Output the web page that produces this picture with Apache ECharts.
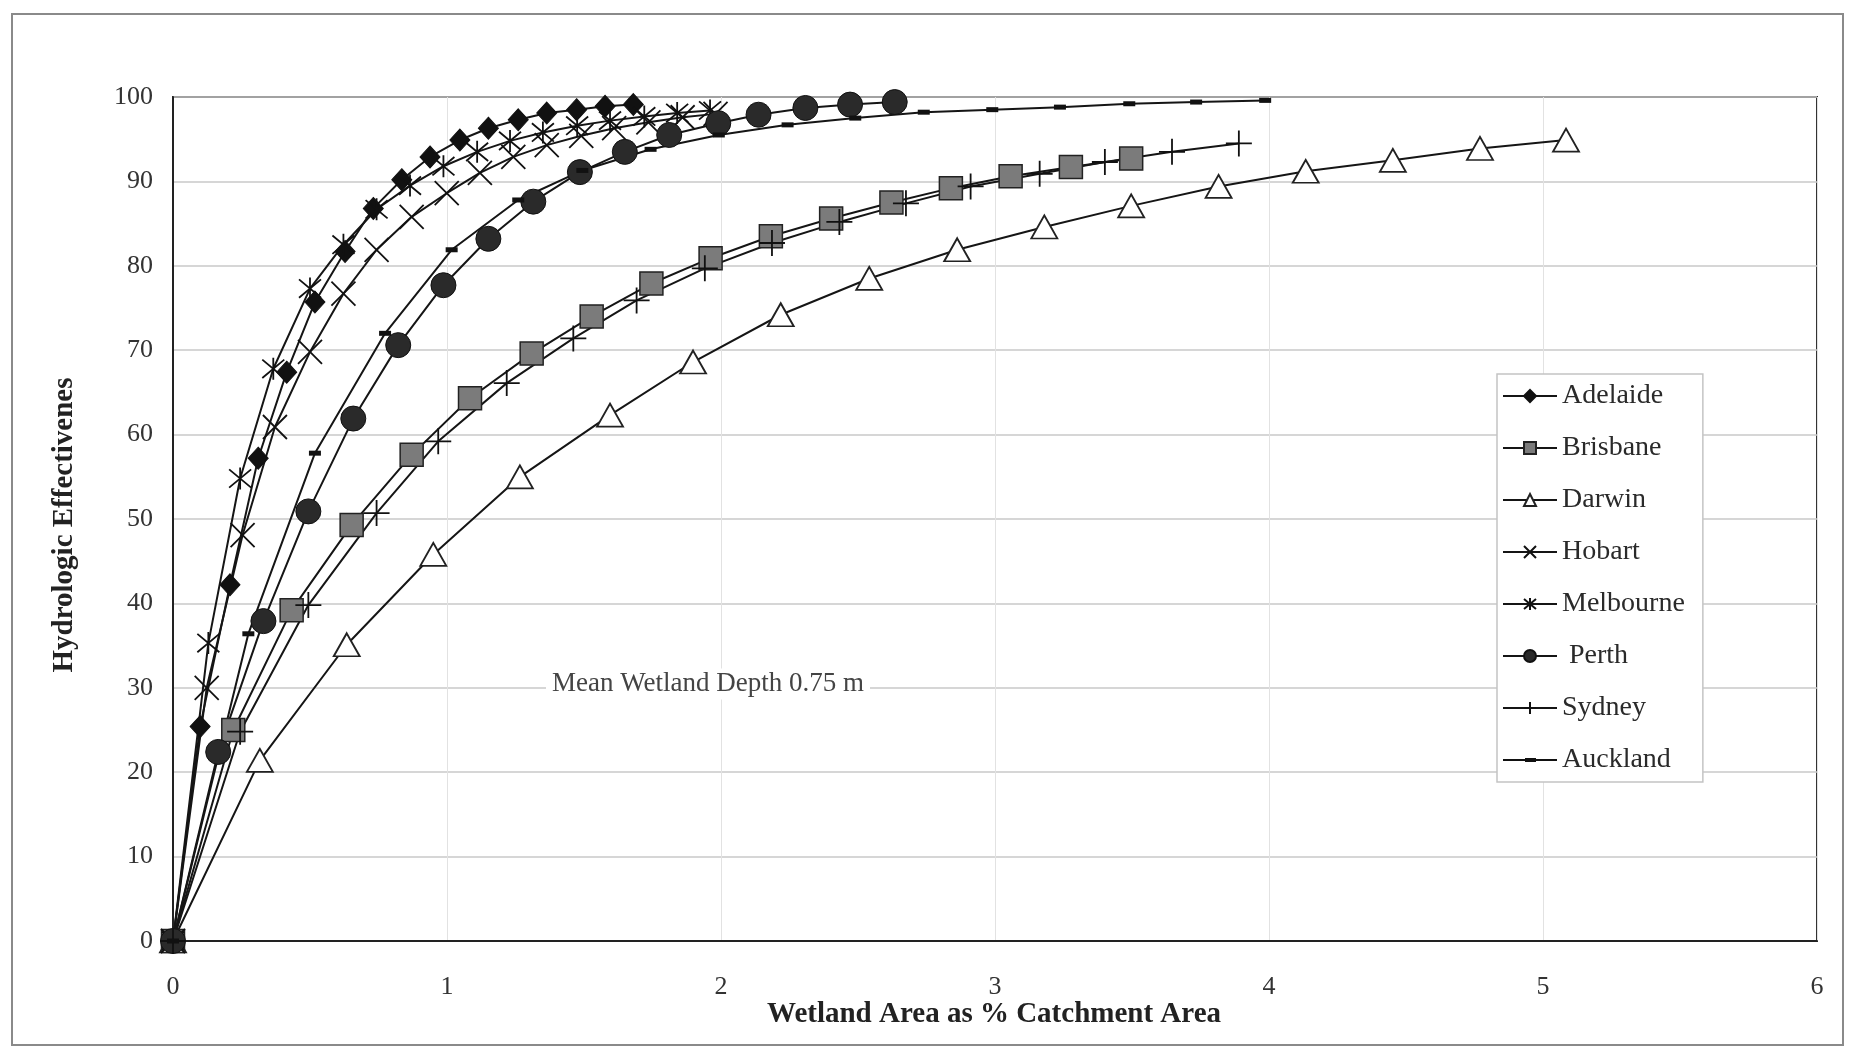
<!DOCTYPE html>
<html><head><meta charset="utf-8">
<script src="https://cdn.jsdelivr.net/npm/echarts@6/dist/echarts.min.js"></script>
<style>html,body{margin:0;padding:0;background:#fff}#c{width:1851px;height:1053px}</style>
</head><body><div id="c"></div>
<script>
// ---- data ----
const xTicks = [0, 1, 2, 3, 4, 5, 6];
const yTicks = [0, 10, 20, 30, 40, 50, 60, 70, 80, 90, 100];

const adelaideX = [0, 0.099, 0.208, 0.311, 0.415, 0.518, 0.628, 0.731, 0.835, 0.938, 1.047, 1.151, 1.26, 1.364, 1.473, 1.577, 1.68];
const adelaideY = [0, 25.4, 42.2, 57.2, 67.4, 75.7, 81.7, 86.8, 90.2, 92.9, 94.9, 96.3, 97.3, 98.1, 98.5, 98.9, 99.1];

const brisbaneX = [0, 0.22, 0.433, 0.652, 0.871, 1.084, 1.309, 1.528, 1.746, 1.962, 2.182, 2.402, 2.622, 2.839, 3.057, 3.277, 3.497];
const brisbaneY = [0, 25.0, 39.2, 49.3, 57.6, 64.3, 69.6, 74.0, 77.9, 80.9, 83.5, 85.6, 87.5, 89.2, 90.6, 91.7, 92.7];

const darwinX = [0, 0.317, 0.634, 0.95, 1.266, 1.595, 1.898, 2.218, 2.541, 2.862, 3.18, 3.497, 3.816, 4.134, 4.452, 4.77, 5.084];
const darwinY = [0, 21.4, 35.1, 45.8, 55.0, 62.3, 68.6, 74.2, 78.5, 81.9, 84.6, 87.1, 89.4, 91.2, 92.5, 93.9, 94.9];

const hobartX = [0, 0.123, 0.254, 0.372, 0.5, 0.622, 0.743, 0.871, 0.999, 1.12, 1.242, 1.364, 1.49, 1.61, 1.735, 1.86, 1.98];
const hobartY = [0, 30.0, 48.1, 60.9, 69.8, 76.7, 81.9, 85.8, 88.6, 91.0, 92.9, 94.3, 95.4, 96.3, 97.0, 97.6, 98.0];

const melbourneX = [0, 0.129, 0.245, 0.366, 0.5, 0.622, 0.743, 0.865, 0.987, 1.11, 1.23, 1.35, 1.475, 1.595, 1.72, 1.84, 1.96];
const melbourneY = [0, 35.3, 54.8, 67.8, 77.3, 82.5, 86.7, 89.5, 91.8, 93.5, 94.8, 95.8, 96.6, 97.2, 97.7, 98.1, 98.4];

const perthX = [0, 0.165, 0.33, 0.494, 0.658, 0.822, 0.987, 1.151, 1.315, 1.485, 1.649, 1.811, 1.99, 2.137, 2.308, 2.471, 2.634];
const perthY = [0, 22.4, 37.9, 50.9, 61.9, 70.6, 77.7, 83.2, 87.6, 91.1, 93.5, 95.5, 96.9, 97.9, 98.7, 99.1, 99.4];

const sydneyX = [0, 0.245, 0.494, 0.743, 0.968, 1.218, 1.461, 1.692, 1.941, 2.186, 2.432, 2.675, 2.911, 3.163, 3.401, 3.646, 3.89];
const sydneyY = [0, 24.8, 39.8, 50.7, 59.2, 66.1, 71.4, 75.9, 79.7, 82.7, 85.2, 87.4, 89.4, 90.9, 92.3, 93.5, 94.5];

const aucklandX = [0, 0.275, 0.518, 0.774, 1.017, 1.26, 1.494, 1.743, 1.992, 2.243, 2.49, 2.74, 2.99, 3.237, 3.49, 3.734, 3.986];
const aucklandY = [0, 36.4, 57.8, 72.0, 81.9, 87.8, 91.3, 93.8, 95.5, 96.7, 97.5, 98.2, 98.5, 98.8, 99.2, 99.4, 99.6];

const xTitle = 'Wetland Area as % Catchment Area';
const yTitle = 'Hydrologic Effectivenes';
const note = 'Mean Wetland Depth 0.75 m';
// ---------------------------------------

const FONT = 'Liberation Serif';
const pairs = (xs, ys) => xs.map((x, i) => [x, ys[i]]);
const X_PATH = 'path://M0,0L10,10M10,0L0,10';
const AST_PATH = 'path://M0,0L10,10M10,0L0,10M5,-1L5,11';
const PLUS_PATH = 'path://M5,0L5,10M0,5L10,5';
const DASH_ICON = 'path://M0,5L54,5L54,7.2L0,7.2Z M22,4L33,4L33,8.2L22,8.2Z';

function mk(name, xs, ys, symbol, size, itemStyle) {
  return {
    name, type: 'line', data: pairs(xs, ys), symbol, symbolSize: size,
    showSymbol: true, showAllSymbol: true, animation: false,
    lineStyle: { color: '#151515', width: 2 },
    itemStyle, emphasis: { disabled: true }
  };
}

const series = [
  mk('Adelaide', adelaideX, adelaideY, 'diamond', [20, 22], { color: '#111', borderColor: '#111', borderWidth: 1 }),
  mk('Brisbane', brisbaneX, brisbaneY, 'rect', 23, { color: '#7b7b7b', borderColor: '#222', borderWidth: 1.5 }),
  mk('Darwin', darwinX, darwinY, 'triangle', [26, 23], { color: '#fff', borderColor: '#222', borderWidth: 1.8 }),
  mk('Hobart', hobartX, hobartY, X_PATH, 24, { color: '#111', borderColor: '#111', borderWidth: 1.8 }),
  mk('Melbourne', melbourneX, melbourneY, AST_PATH, 22, { color: '#111', borderColor: '#111', borderWidth: 1.8 }),
  mk('Perth', perthX, perthY, 'circle', 25, { color: '#2a2a2a', borderColor: '#111', borderWidth: 1 }),
  mk('Sydney', sydneyX, sydneyY, PLUS_PATH, 26, { color: '#111', borderColor: '#111', borderWidth: 1.8 }),
  mk('Auckland', aucklandX, aucklandY, 'rect', [12, 5], { color: '#111', borderColor: '#111', borderWidth: 0 })
];

const legendData = series.map(s => (s.name === 'Auckland' ? { name: s.name, icon: DASH_ICON, itemStyle: { color: '#111', borderWidth: 0 } } : s.name));

const chart = echarts.init(document.getElementById('c'), null, { renderer: 'canvas' });
chart.setOption({
  backgroundColor: '#fff',
  animation: false,
  grid: { left: 173, top: 97, width: 1644, height: 844, show: true, borderColor: '#333', borderWidth: 2, backgroundColor: 'transparent' },
  xAxis: {
    type: 'value', min: xTicks[0], max: xTicks[xTicks.length - 1], interval: 1,
    axisLine: { show: true, onZero: false, lineStyle: { color: '#222', width: 2 } },
    axisTick: { show: false },
    splitLine: { show: true, lineStyle: { color: '#e2e2e2', width: 1 } },
    axisLabel: { color: '#333', fontSize: 26, fontFamily: FONT, margin: 33 }
  },
  yAxis: {
    type: 'value', min: yTicks[0], max: yTicks[yTicks.length - 1], interval: 10,
    axisLine: { show: true, onZero: false, lineStyle: { color: '#222', width: 2 } },
    axisTick: { show: false },
    splitLine: { show: true, lineStyle: { color: '#c9c9c9', width: 1.5 } },
    axisLabel: { color: '#333', fontSize: 26, fontFamily: FONT, margin: 20 }
  },
  legend: {
    orient: 'vertical', left: 1497, top: 374,
    padding: [8, 18, 8, 5],
    itemWidth: 54, itemHeight: 15, itemGap: 24,
    backgroundColor: '#fff', borderColor: '#c4c4c4', borderWidth: 1.5,
    textStyle: { fontFamily: FONT, fontSize: 28, color: '#2a2a2a' },
    formatter: n => (n === 'Perth' ? ' Perth' : n),
    data: legendData
  },
  graphic: [
    { type: 'rect', silent: true, z: -1, shape: { x: 12, y: 14, width: 1831, height: 1031 }, style: { fill: 'none', stroke: '#8a8a8a', lineWidth: 2 } },
    { type: 'text', z: 5, x: 546, y: 684, style: { text: note, font: '27px "Liberation Serif"', fill: '#444', verticalAlign: 'middle', backgroundColor: '#fff', padding: [2, 6, 2, 6] } },
    { type: 'text', z: 5, x: 994, y: 1015, style: { text: xTitle, font: 'bold 29px "Liberation Serif"', fill: '#222', align: 'center', verticalAlign: 'middle' } },
    { type: 'text', z: 5, x: 65, y: 525, rotation: Math.PI / 2, style: { text: yTitle, font: 'bold 29px "Liberation Serif"', fill: '#222', align: 'center', verticalAlign: 'middle' } }
  ],
  series
});
</script></body></html>
